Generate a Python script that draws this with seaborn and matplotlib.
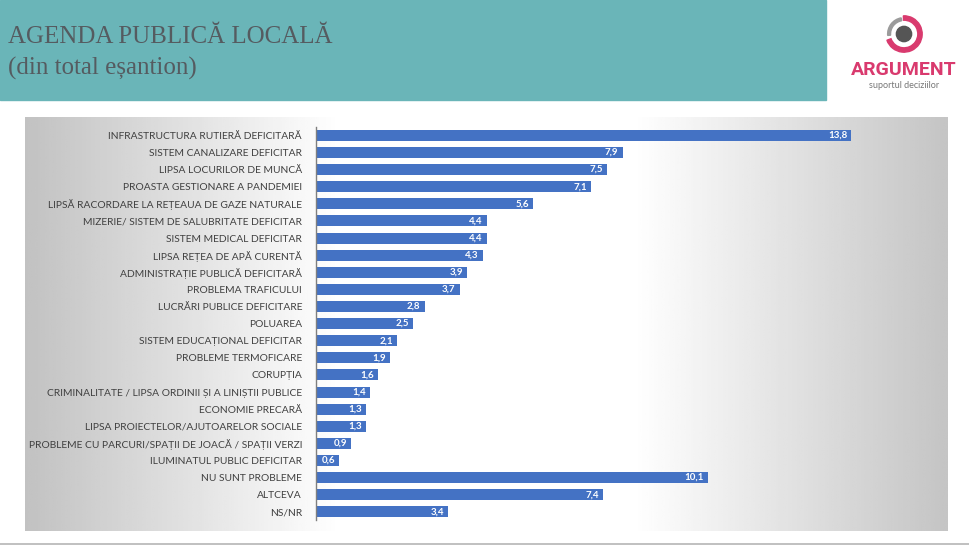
import matplotlib.pyplot as plt
import numpy as np
import seaborn as sns
from matplotlib.patches import Rectangle, Wedge, Circle

# data
labels = [
    "INFRASTRUCTURA RUTIERĂ DEFICITARĂ",
    "SISTEM CANALIZARE DEFICITAR",
    "LIPSA LOCURILOR DE MUNCĂ",
    "PROASTA GESTIONARE A PANDEMIEI",
    "LIPSĂ RACORDARE LA REȚEAUA DE GAZE NATURALE",
    "MIZERIE/ SISTEM DE SALUBRITATE DEFICITAR",
    "SISTEM MEDICAL DEFICITAR",
    "LIPSA REȚEA DE APĂ CURENTĂ",
    "ADMINISTRAȚIE PUBLICĂ DEFICITARĂ",
    "PROBLEMA TRAFICULUI",
    "LUCRĂRI PUBLICE DEFICITARE",
    "POLUAREA",
    "SISTEM EDUCAȚIONAL DEFICITAR",
    "PROBLEME TERMOFICARE",
    "CORUPȚIA",
    "CRIMINALITATE / LIPSA ORDINII ȘI A LINIȘTII PUBLICE",
    "ECONOMIE PRECARĂ",
    "LIPSA PROIECTELOR/AJUTOARELOR SOCIALE",
    "PROBLEME CU PARCURI/SPAȚII DE JOACĂ / SPAȚII VERZI",
    "ILUMINATUL PUBLIC DEFICITAR",
    "NU SUNT PROBLEME",
    "ALTCEVA",
    "NS/NR",
]
values = [13.8, 7.9, 7.5, 7.1, 5.6, 4.4, 4.4, 4.3, 3.9, 3.7, 2.8, 2.5,
          2.1, 1.9, 1.6, 1.4, 1.3, 1.3, 0.9, 0.6, 10.1, 7.4, 3.4]

title = "AGENDA PUBLICĂ LOCALĂ"
subtitle = "(din total eșantion)"

W, H = 970, 546
fig = plt.figure(figsize=(W / 100, H / 100), dpi=100)
fig.patch.set_facecolor("white")


def box(x0, y0, x1, y1):
    # pixel box (top-left origin) -> figure rect
    return [x0 / W, 1 - y1 / H, (x1 - x0) / W, (y1 - y0) / H]


# header band
fig.patches.append(Rectangle((0, 1 - 100 / H), 826 / W, 100 / H,
                             transform=fig.transFigure, color="#6ab5b8", zorder=0))
fig.text(8 / W, 1 - 37 / H, title, fontsize=18, family="Liberation Serif",
         color="#555b60", va="center", ha="left")
fig.text(8 / W, 1 - 68 / H, subtitle, fontsize=18, family="Liberation Serif",
         color="#555b60", va="center", ha="left")
fig.lines.append(plt.Line2D([0, 1], [1 - 544 / H] * 2, transform=fig.transFigure,
                            color="#b5b5b5", lw=1.2))

# gradient panel
bg = fig.add_axes(box(25, 117, 948, 531))
xs = np.linspace(0, 1, 400)
shade = np.interp(xs, [0, 0.34, 0.66, 1.0], [0.76, 1.0, 1.0, 0.77])
bg.imshow(np.tile(shade, (2, 1)), cmap="gray", vmin=0, vmax=1,
          aspect="auto", extent=[0, 1, 0, 1])
bg.set_axis_off()

# logo
logo = fig.add_axes(box(884, 14, 924, 54))
logo.set_xlim(-1.1, 1.1)
logo.set_ylim(-1.1, 1.1)
logo.set_aspect("equal")
logo.set_axis_off()
logo.add_patch(Wedge((0, 0), 1.0, -160, 92, width=0.24, color="#d93a6e"))
logo.add_patch(Wedge((0, 0), 0.9, 100, 185, width=0.16, color="#9b9b9b"))
logo.add_patch(Circle((0, 0), 0.42, color="#555555"))
fig.text(904 / W, 1 - 70 / H, "ARGUMENT", fontsize=14, family="Roboto",
         weight="bold", color="#d93a6e", ha="center", va="center")
fig.text(904 / W, 1 - 86 / H, "suportul deciziilor", fontsize=6.5, family="Lato",
         color="#777777", ha="center", va="center")

# bars
ax = fig.add_axes(box(316, 126.8, 938, 520.4))
ax.set_facecolor("none")
sns.barplot(x=values, y=labels, orient="h", color="#4472c4", width=0.64,
            saturation=1, ax=ax)
ax.set_xlim(0, (938 - 316) / 38.8)
ax.set_ylim(len(labels) - 0.5, -0.5)
for s in ["top", "right", "bottom"]:
    ax.spines[s].set_visible(False)
ax.spines["left"].set_color("#7f7f7f")
ax.spines["left"].set_linewidth(1.0)
ax.set_xticks([])
ax.tick_params(axis="y", length=0, pad=10, labelsize=7.4, labelcolor="#404040")
for t in ax.get_yticklabels():
    t.set_family("Lato")
ax.set_xlabel("")
ax.set_ylabel("")

for i, v in enumerate(values):
    ax.annotate(f"{v:.1f}".replace(".", ","), (v, i), xytext=(-3, 0),
                textcoords="offset points", ha="right", va="center",
                fontsize=7, weight="bold", color="white", family="Lato")

fig.savefig("out.png", dpi=100)
